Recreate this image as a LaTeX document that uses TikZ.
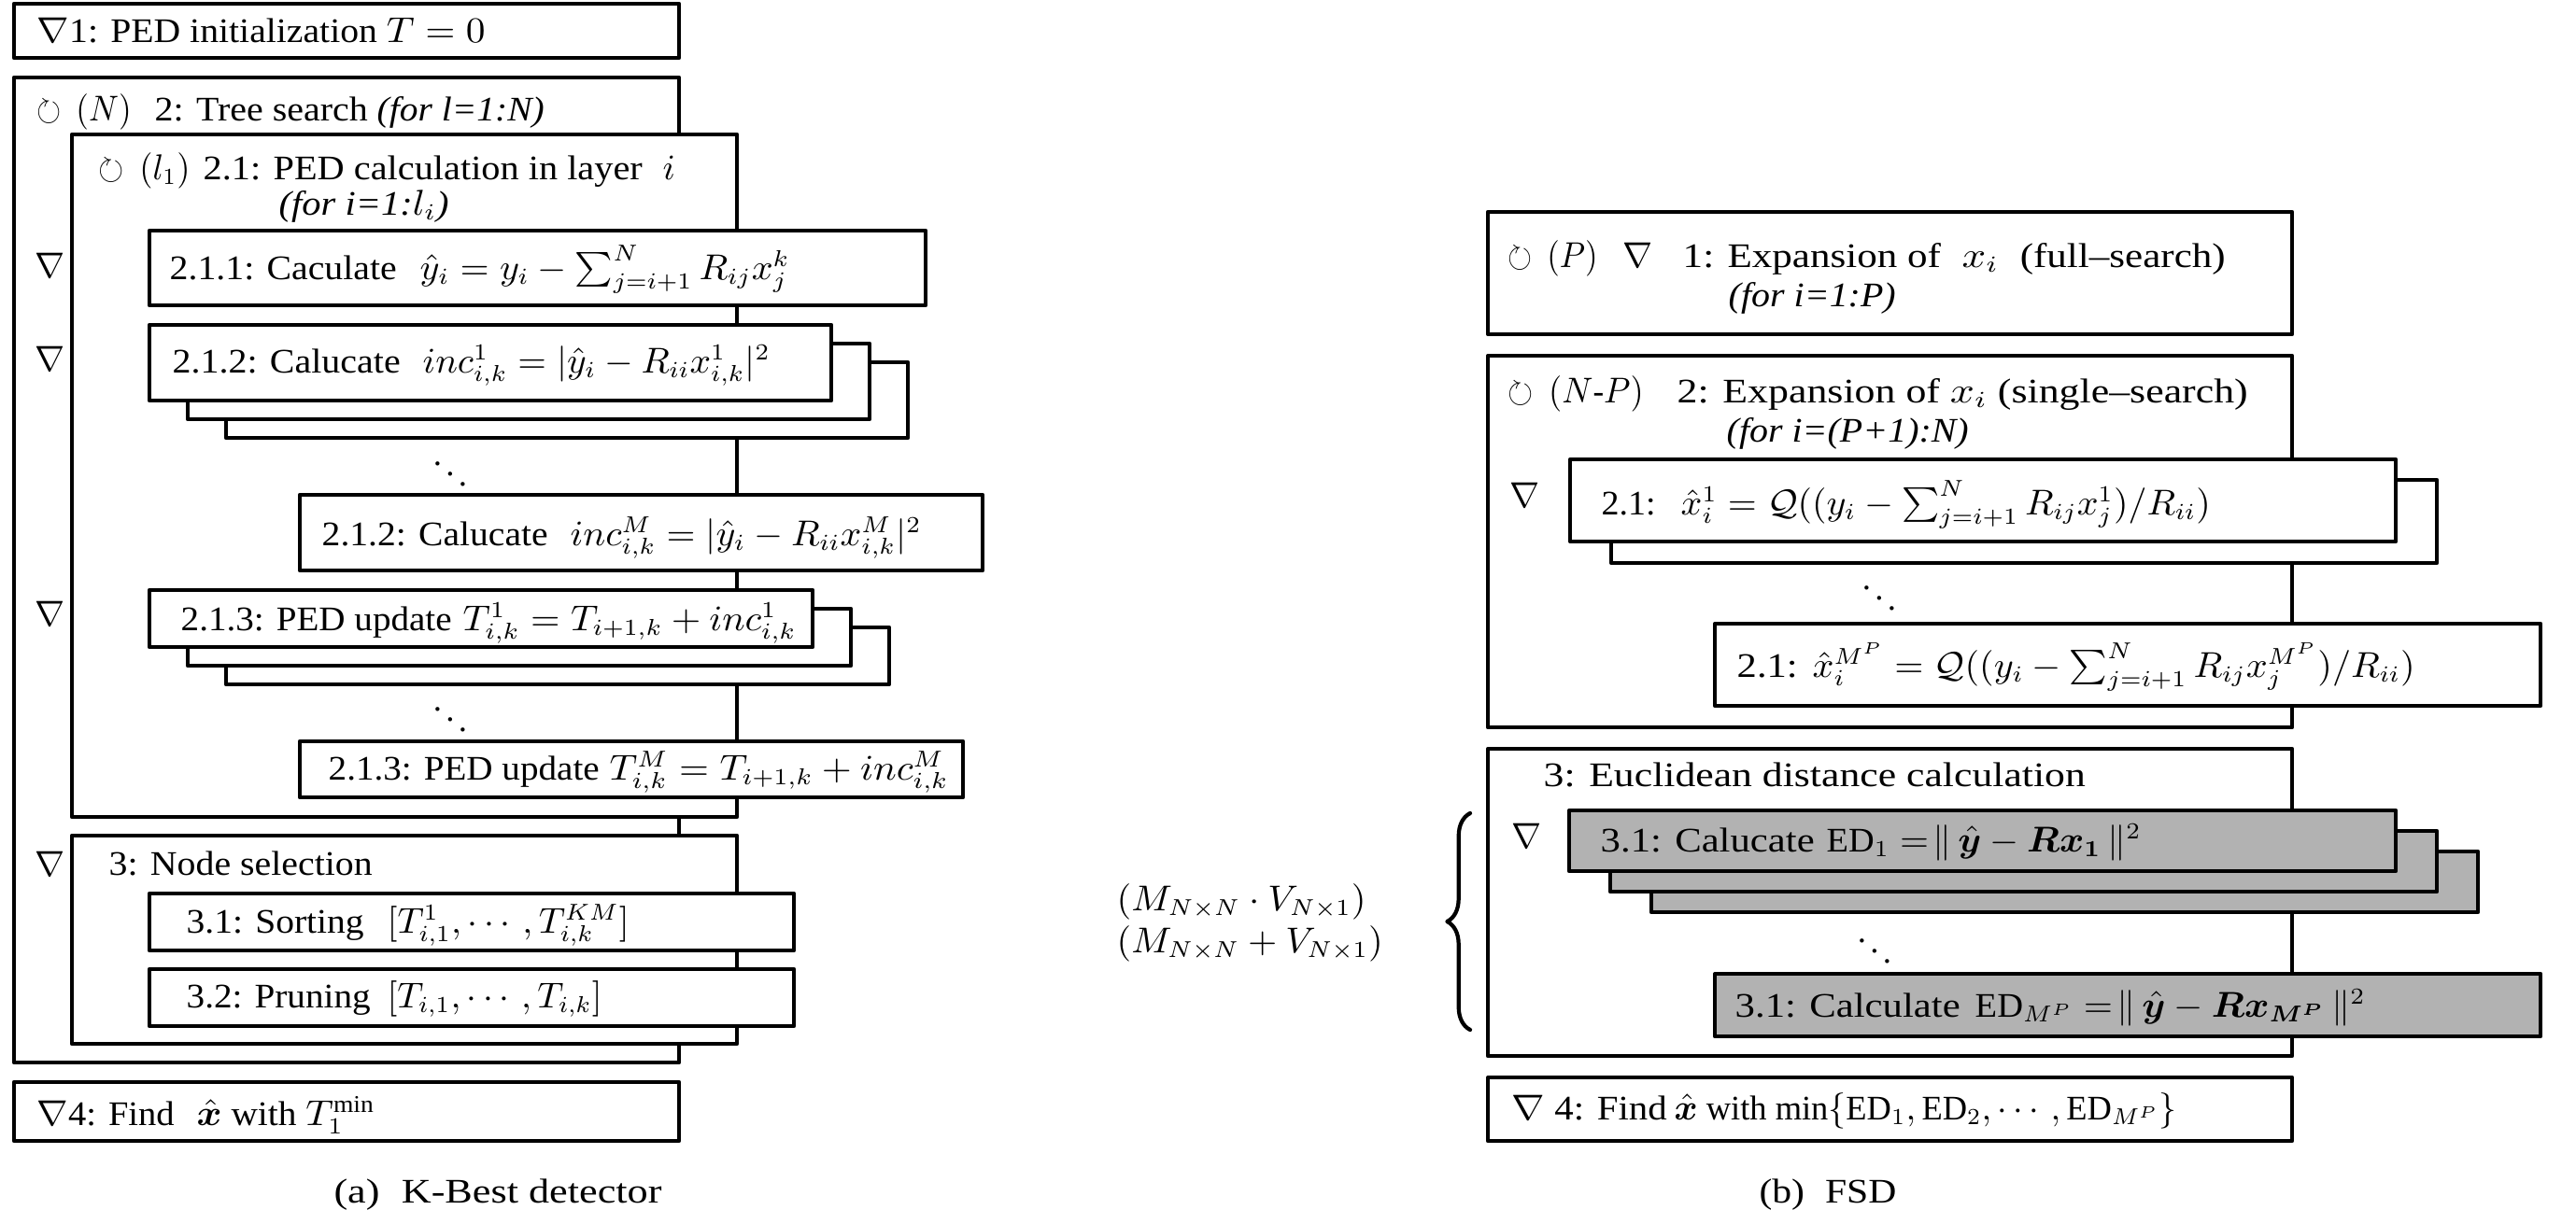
\documentclass[tikz,border=0pt]{standalone}
\usepackage{amsmath,amssymb,bm,graphicx}
\usepackage{fontspec}
\setmainfont{Liberation Serif}
\usetikzlibrary{decorations.pathreplacing}
% squeeze a part to its width in the figure, height kept
\newcommand{\fitw}[2]{\resizebox{#1}{\height}{#2}}

\begin{document}
\begin{tikzpicture}[line cap=round,line join=round,
  box/.style={draw,line width=1.2pt,fill=white},
  gbox/.style={box,fill=gray!60},
  txt/.style={anchor=base west,inner sep=0pt,font=\fontsize{10.5}{12.6}\selectfont},
  symb/.style={inner sep=0pt,font=\fontsize{10.5}{12.6}\selectfont}]
  \useasboundingbox (0,0) rectangle (27.58,-13.10);
  % (a) K-Best detector
  \draw[box] (0.15,-0.04) rectangle (7.27,-0.62);
  \node[txt] (init) at (0.39,-0.45) {\fitw{4.80cm}{$\nabla$1: PED initialization $T=0$}};
  \draw[box] (0.15,-0.83) rectangle (7.27,-11.38);
  \node[txt] (treeloop) at (0.39,-1.29) {\fitw{1.01cm}{$\circlearrowright\,(N)$}};
  \node[txt] (tree) at (1.65,-1.29) {\fitw{2.28cm}{2: Tree search}};
  \node[txt] (treefor) at (4.03,-1.29) {\fitw{1.79cm}{\textit{(for l=1:N)}}};
  \draw[box] (0.77,-1.44) rectangle (7.89,-8.75);
  \node[txt] (layerloop) at (1.05,-1.92) {\fitw{0.98cm}{$\circlearrowright\,(l_1)$}};
  \node[txt] (layer) at (2.17,-1.92) {\fitw{4.70cm}{2.1: PED calculation in layer}};
  \node[txt] (layeri) at (7.09,-1.92) {$i$};
  \node[txt] (layerfor) at (2.98,-2.30) {\fitw{1.82cm}{\textit{(for i=1:$l_i$)}}};
  \draw[box] (1.60,-2.47) rectangle (9.91,-3.27);
  \node[symb] (na) at (0.54,-2.84) {$\nabla$};
  \node[txt] (yhat) at (1.81,-2.99) {\fitw{2.43cm}{2.1.1: Caculate}};
  \node[txt] (yhatm) at (4.49,-2.99) {\fitw{3.96cm}{$\hat{y}_i=y_i-\sum_{j=i+1}^{N}R_{ij}x_j^k$}};
  \draw[box] (2.42,-3.88) rectangle (9.72,-4.69);
  \draw[box] (2.01,-3.68) rectangle (9.31,-4.49);
  \draw[box] (1.60,-3.48) rectangle (8.90,-4.29);
  \node[symb] (nb) at (0.54,-3.84) {$\nabla$};
  \node[txt] (inc1) at (1.84,-3.99) {\fitw{2.44cm}{2.1.2: Calucate}};
  \node[txt] (inc1m) at (4.52,-3.99) {\fitw{3.72cm}{$inc_{i,k}^1=|\hat{y}_i-R_{ii}x_{i,k}^1|^2$}};
  \node[symb] (dota) at (4.82,-4.97) {$\ddots$};
  \draw[box] (3.21,-5.30) rectangle (10.52,-6.11);
  \node[txt] (incM) at (3.44,-5.84) {\fitw{2.42cm}{2.1.2: Calucate}};
  \node[txt] (incMm) at (6.10,-5.84) {\fitw{3.76cm}{$inc_{i,k}^M=|\hat{y}_i-R_{ii}x_{i,k}^M|^2$}};
  \draw[box] (2.42,-6.72) rectangle (9.52,-7.33);
  \draw[box] (2.01,-6.52) rectangle (9.11,-7.13);
  \draw[box] (1.60,-6.32) rectangle (8.70,-6.93);
  \node[symb] (nc) at (0.54,-6.57) {$\nabla$};
  \node[txt] (upd1) at (1.93,-6.75) {\fitw{2.90cm}{2.1.3: PED update}};
  \node[txt] (upd1m) at (4.95,-6.75) {\fitw{3.57cm}{$T_{i,k}^1=T_{i+1,k}+inc_{i,k}^1$}};
  \node[symb] (dotb) at (4.82,-7.60) {$\ddots$};
  \draw[box] (3.21,-7.94) rectangle (10.31,-8.54);
  \node[txt] (updM) at (3.51,-8.35) {\fitw{2.90cm}{2.1.3: PED update}};
  \node[txt] (updMm) at (6.52,-8.35) {\fitw{3.63cm}{$T_{i,k}^M=T_{i+1,k}+inc_{i,k}^M$}};
  \draw[box] (0.77,-8.95) rectangle (7.89,-11.18);
  \node[symb] (nd) at (0.54,-9.25) {$\nabla$};
  \node[txt] (select) at (1.16,-9.37) {\fitw{2.82cm}{3: Node selection}};
  \draw[box] (1.60,-9.57) rectangle (8.50,-10.18);
  \node[txt] (sort) at (1.99,-9.99) {\fitw{1.90cm}{3.1: Sorting}};
  \node[txt] (sortm) at (4.14,-9.99) {\fitw{2.59cm}{$[T_{i,1}^1,\cdots,T_{i,k}^{KM}]$}};
  \draw[box] (1.60,-10.38) rectangle (8.50,-10.99);
  \node[txt] (prune) at (1.99,-10.79) {\fitw{1.97cm}{3.2: Pruning}};
  \node[txt] (prunem) at (4.14,-10.79) {\fitw{2.30cm}{$[T_{i,1},\cdots,T_{i,k}]$}};
  \draw[box] (0.15,-11.59) rectangle (7.27,-12.22);
  \node[txt] (finda) at (0.39,-12.05) {\fitw{1.47cm}{$\nabla$4: Find}};
  \node[txt] (findam) at (2.10,-12.05) {\fitw{1.91cm}{$\hat{\bm{x}}$ with $T_1^{\min}$}};
  \node[symb] (capa) at (5.33,-12.80) {\fitw{3.51cm}{(a)\; K-Best detector}};
  % (b) FSD
  \draw[box] (15.93,-2.27) rectangle (24.54,-3.58);
  \node[txt] (fullloop) at (16.14,-2.86) {\fitw{0.96cm}{$\circlearrowright\,(P)$}};
  \node[txt] (fullnabla) at (17.37,-2.86) {$\nabla$};
  \node[txt] (full) at (18.01,-2.86) {\fitw{5.81cm}{1: Expansion of \;$x_i$\; (full--search)}};
  \node[txt] (fullfor) at (18.50,-3.28) {\fitw{1.79cm}{\textit{(for i=1:P)}}};
  \draw[box] (15.93,-3.81) rectangle (24.54,-7.79);
  \node[txt] (singleloop) at (16.14,-4.31) {\fitw{1.45cm}{$\circlearrowright\,(N\text{-}P)$}};
  \node[txt] (single) at (17.95,-4.31) {\fitw{6.11cm}{2: Expansion of $x_i$ (single--search)}};
  \node[txt] (singlefor) at (18.48,-4.73) {\fitw{2.59cm}{\textit{(for i=(P+1):N)}}};
  \draw[box] (17.25,-5.14) rectangle (26.09,-6.03);
  \draw[box] (16.81,-4.92) rectangle (25.65,-5.80);
  \node[symb] (ne) at (16.33,-5.30) {$\nabla$};
  \node[txt] (quant1) at (17.14,-5.51) {\fitw{0.58cm}{2.1:}};
  \node[txt] (quant1m) at (17.99,-5.51) {\fitw{5.67cm}{$\hat{x}_i^1=\mathcal{Q}((y_i-\sum_{j=i+1}^{N}R_{ij}x_j^1)/R_{ii})$}};
  \node[symb] (dotc) at (20.12,-6.30) {$\ddots$};
  \draw[box] (18.36,-6.68) rectangle (27.20,-7.56);
  \node[txt] (quantM) at (18.59,-7.25) {\fitw{0.65cm}{2.1:}};
  \node[txt] (quantMm) at (19.40,-7.25) {\fitw{6.45cm}{$\hat{x}_i^{M^P}=\mathcal{Q}((y_i-\sum_{j=i+1}^{N}R_{ij}x_j^{M^P})/R_{ii})$}};
  \draw[box] (15.93,-8.02) rectangle (24.54,-11.31);
  \node[txt] (eucl) at (16.52,-8.42) {\fitw{5.80cm}{3: Euclidean distance calculation}};
  \draw[gbox] (17.68,-9.12) rectangle (26.53,-9.77);
  \draw[gbox] (17.24,-8.90) rectangle (26.09,-9.55);
  \draw[gbox] (16.80,-8.68) rectangle (25.65,-9.33);
  \node[symb] (nf) at (16.35,-8.95) {$\nabla$};
  \node[txt] (ed1) at (17.13,-9.12) {\fitw{2.29cm}{3.1: Calucate}};
  \node[txt] (ed1m) at (19.55,-9.12) {\fitw{3.37cm}{$\mathrm{ED}_1=\!\|\,\hat{\bm{y}}-\bm{Rx_1}\,\|^2$}};
  \node[symb] (dotd) at (20.07,-10.08) {$\ddots$};
  \draw[gbox] (18.36,-10.43) rectangle (27.20,-11.10);
  \node[txt] (edM) at (18.57,-10.89) {\fitw{2.41cm}{3.1: Calculate}};
  \node[txt] (edMm) at (21.14,-10.89) {\fitw{4.18cm}{$\mathrm{ED}_{M^P}=\!\|\,\hat{\bm{y}}-\bm{Rx}_{\bm{M^P}}\,\|^2$}};
  \draw[box] (15.93,-11.54) rectangle (24.54,-12.22);
  \node[txt] (findb) at (16.18,-11.99) {\fitw{1.66cm}{$\nabla$ 4: Find}};
  \node[txt] (findbm) at (17.92,-11.99) {\fitw{5.38cm}{$\hat{\bm{x}}$ with $\min\{\mathrm{ED}_1,\mathrm{ED}_2,\cdots,\mathrm{ED}_{M^P}\}$}};
  \draw[line width=1.2pt,decorate,decoration={brace,amplitude=7pt}] (15.74,-11.03) -- (15.74,-8.71);
  \node[txt] (mult) at (11.95,-9.75) {\fitw{2.67cm}{$(M_{N\times N}\cdot V_{N\times 1})$}};
  \node[txt] (add) at (11.95,-10.20) {\fitw{2.85cm}{$(M_{N\times N}+V_{N\times 1})$}};
  \node[symb] (capb) at (19.57,-12.80) {\fitw{1.47cm}{(b)\; FSD}};
\end{tikzpicture}
\end{document}
